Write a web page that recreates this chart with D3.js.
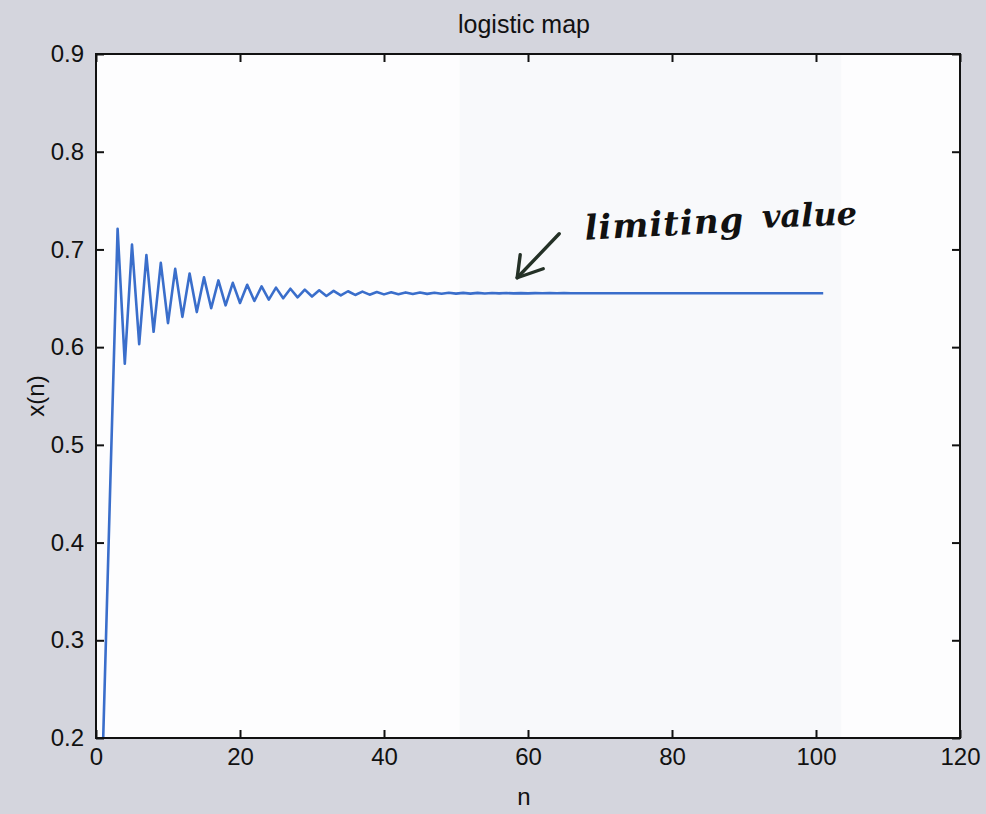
<!DOCTYPE html>
<html>
<head>
<meta charset="utf-8">
<script src="https://cdn.jsdelivr.net/npm/d3@7"></script>
<style>
  html, body { margin: 0; padding: 0; background: #d4d5dd; }
  svg { display: block; }
  text { font-family: "Liberation Sans", Arial, sans-serif; fill: #111; }
</style>
</head>
<body>
<svg id="chart" width="986" height="814"></svg>
<script>
// Iterates x(n) of the logistic map, n = 1 .. 101
const xValues = [
  0.2000, 0.4640, 0.7212, 0.5831, 0.7050, 0.6031, 0.6942, 0.6157, 0.6862, 0.6245,
  0.6801, 0.6310, 0.6753, 0.6359, 0.6714, 0.6398, 0.6683, 0.6428, 0.6658, 0.6452,
  0.6638, 0.6472, 0.6622, 0.6487, 0.6609, 0.6500, 0.6598, 0.6510, 0.6589, 0.6518,
  0.6582, 0.6524, 0.6576, 0.6529, 0.6572, 0.6534, 0.6568, 0.6537, 0.6565, 0.6540,
  0.6562, 0.6542, 0.6560, 0.6544, 0.6559, 0.6545, 0.6557, 0.6547, 0.6556, 0.6548,
  0.6555, 0.6548, 0.6555, 0.6549, 0.6554, 0.6550, 0.6554, 0.6550, 0.6553, 0.6550,
  0.6553, 0.6551, 0.6553, 0.6551, 0.6553, 0.6551, 0.6552, 0.6551, 0.6552, 0.6551,
  0.6552, 0.6551, 0.6552, 0.6551, 0.6552, 0.6551, 0.6552, 0.6552, 0.6552, 0.6552,
  0.6552, 0.6552, 0.6552, 0.6552, 0.6552, 0.6552, 0.6552, 0.6552, 0.6552, 0.6552,
  0.6552, 0.6552, 0.6552, 0.6552, 0.6552, 0.6552, 0.6552, 0.6552, 0.6552, 0.6552,
  0.6552
];
const nValues = xValues.map((_, i) => i + 1);

const xTicks = [0, 20, 40, 60, 80, 100, 120];
const yTicks = [0.2, 0.3, 0.4, 0.5, 0.6, 0.7, 0.8, 0.9];

const titleText = "logistic map";
const xLabel = "n";
const yLabel = "x(n)";
const noteText = ["limiting", "value"];
// where the hand-drawn arrow points (n, x)
const notePoint = [58.5, 0.671];

const svg = d3.select("#chart");
const margin = { left: 96, right: 26, top: 54, bottom: 76 };
const W = 986, H = 814;
const iw = W - margin.left - margin.right;
const ih = H - margin.top - margin.bottom;

const x = d3.scaleLinear().domain([0, 120]).range([0, iw]);
const y = d3.scaleLinear().domain([0.2, 0.9]).range([ih, 0]);

const g = svg.append("g").attr("transform", `translate(${margin.left},${margin.top})`);

// plot area
g.append("rect").attr("width", iw).attr("height", ih).attr("fill", "#fdfdfe");
// faint lighter-grey band in the scanned page
g.append("rect")
  .attr("x", x(50.5)).attr("width", x(103.5) - x(50.5))
  .attr("height", ih).attr("fill", "#f8f9fb");

g.append("defs").append("clipPath").attr("id", "clip")
  .append("rect").attr("width", iw).attr("height", ih);

// the series
const line = d3.line().x((d, i) => x(nValues[i])).y(d => y(d));
g.append("path")
  .datum(xValues)
  .attr("clip-path", "url(#clip)")
  .attr("fill", "none")
  .attr("stroke", "#3a6ecb")
  .attr("stroke-width", 2.6)
  .attr("stroke-linejoin", "round")
  .attr("d", line);

// axes with inward ticks on all four sides
const tickLen = 8;
function styleAxis(sel) {
  sel.select(".domain").remove();
  sel.selectAll(".tick line").attr("stroke", "#111").attr("stroke-width", 2);
  sel.selectAll(".tick text").style("font-size", "24px").attr("fill", "#111");
}
g.append("g")
  .call(d3.axisLeft(y).tickValues(yTicks).tickFormat(d3.format(".1f"))
    .tickSizeInner(-tickLen).tickSizeOuter(0).tickPadding(12))
  .call(styleAxis);
g.append("g").attr("transform", `translate(${iw},0)`)
  .call(d3.axisRight(y).tickValues(yTicks).tickFormat("")
    .tickSizeInner(-tickLen).tickSizeOuter(0))
  .call(styleAxis);
g.append("g").attr("transform", `translate(0,${ih})`)
  .call(d3.axisBottom(x).tickValues(xTicks).tickFormat(d3.format("d"))
    .tickSizeInner(-tickLen).tickSizeOuter(0).tickPadding(10))
  .call(styleAxis);
g.append("g")
  .call(d3.axisTop(x).tickValues(xTicks).tickFormat("")
    .tickSizeInner(-tickLen).tickSizeOuter(0))
  .call(styleAxis);

// frame
g.append("rect").attr("width", iw).attr("height", ih)
  .attr("fill", "none").attr("stroke", "#111").attr("stroke-width", 2);

// titles
svg.append("text").attr("x", margin.left + iw / 2 - 4).attr("y", 33)
  .attr("text-anchor", "middle").style("font-size", "25px").text(titleText);
svg.append("text").attr("x", margin.left + iw / 2 - 4).attr("y", 805)
  .attr("text-anchor", "middle").style("font-size", "24px").text(xLabel);
svg.append("text")
  .attr("transform", `translate(44,${margin.top + ih / 2}) rotate(-90)`)
  .attr("text-anchor", "middle").style("font-size", "24px").text(yLabel);

// hand-written note with arrow
const ink = "#243126";
const ax = x(notePoint[0]), ay = y(notePoint[1]);
const note = g.append("g");
note.append("path")
  .attr("d", `M${ax + 42},${ay - 44} L${ax},${ay}`)
  .attr("fill", "none").attr("stroke", ink).attr("stroke-width", 3.4).attr("stroke-linecap", "round");
note.append("path")
  .attr("d", `M${ax + 3},${ay - 23} L${ax},${ay} L${ax + 26},${ay - 9}`)
  .attr("fill", "none").attr("stroke", ink).attr("stroke-width", 3.4)
  .attr("stroke-linecap", "round").attr("stroke-linejoin", "round");
note.append("text")
  .attr("transform", `translate(${ax + 68},${ay - 38}) rotate(-3)`)
  .style("font-family", "'DejaVu Serif', serif").style("font-style", "italic")
  .style("font-weight", "bold")
  .style("font-size", "34px").attr("fill", ink).attr("letter-spacing", 1)
  .text(noteText[0]);
note.append("text")
  .attr("transform", `translate(${ax + 245},${ay - 50}) rotate(-2)`)
  .style("font-family", "'DejaVu Serif', serif").style("font-style", "italic")
  .style("font-weight", "bold")
  .style("font-size", "32px").attr("fill", ink).attr("letter-spacing", 0)
  .text(noteText[1]);
</script>
</body>
</html>
